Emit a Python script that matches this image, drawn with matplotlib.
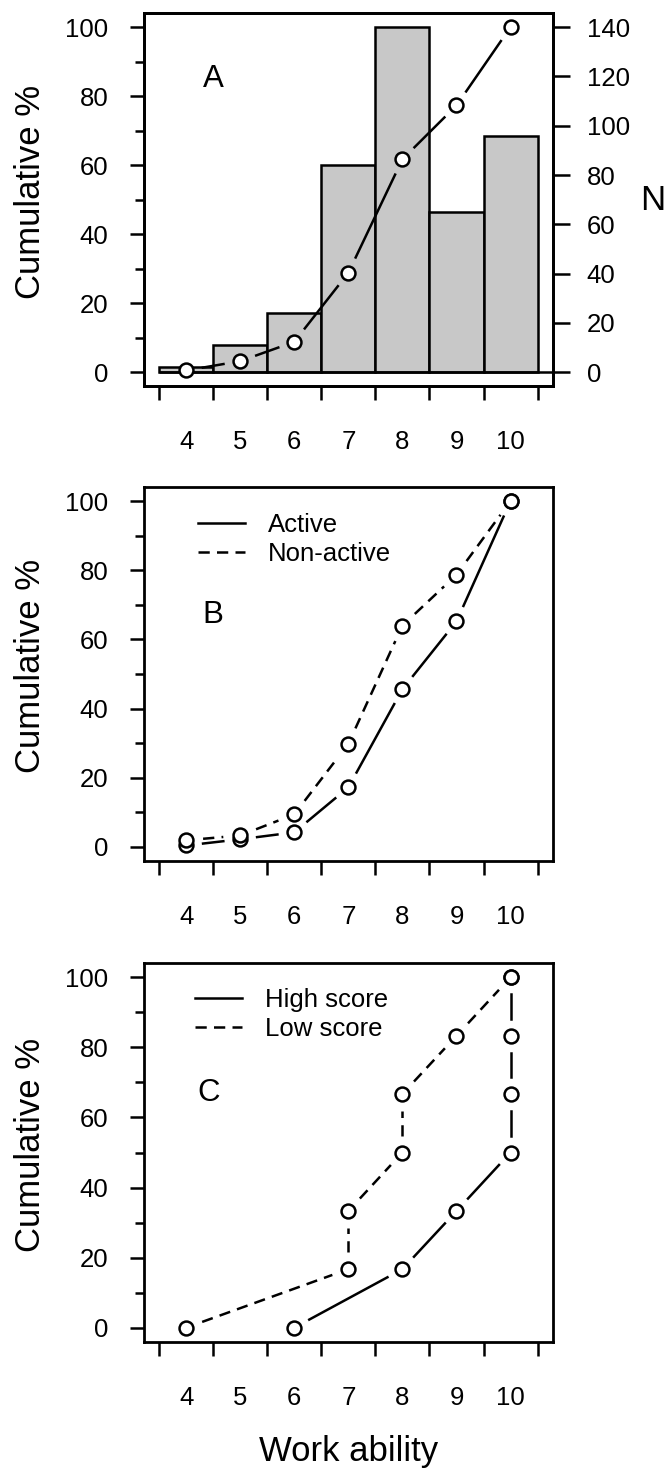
import numpy as np
import matplotlib
matplotlib.use('Agg')
import matplotlib.pyplot as plt
from matplotlib.lines import Line2D

plt.rcParams['font.family'] = ['Liberation Sans', 'DejaVu Sans']

# data
work = [4, 5, 6, 7, 8, 9, 10]
n_counts = [2, 11, 24, 84, 140, 65, 96]
cum_all = [0.5, 3.2, 8.8, 28.8, 61.7, 77.3, 100]

active = [0.4, 2.2, 4.2, 17.2, 45.6, 65.2, 100]
nonactive = [1.9, 3.3, 9.4, 29.8, 64.0, 78.7, 100]

high_x = [6, 8, 9, 10, 10, 10, 10]
high_y = [0, 16.7, 33.3, 50, 66.7, 83.3, 100]
low_x = [4, 7, 7, 8, 8, 9, 10]
low_y = [0, 16.7, 33.3, 50, 66.7, 83.3, 100]

W, H = 671, 1468
LW = 1.8
DASH = (4.5, 2.9)
GAP = 17  # px gap around points (R type="b")
TICK_FS = 18.5
LAB_FS = 25


def place(left, top, right, bottom):
    return [left / W, 1 - bottom / H, (right - left) / W, (bottom - top) / H]


edges = np.append(work, work[-1] + 1) - 0.5
xpad = 0.04 * (edges[-1] - edges[0])
XLIM = (edges[0] - xpad, edges[-1] + xpad)
YLIM = (-4, 104)


def style_axes(ax):
    ax.set_xlim(XLIM)
    ax.set_ylim(YLIM)
    for s in ax.spines.values():
        s.set_linewidth(2.0)
    ax.set_xticks(edges)
    ax.set_xticklabels([])
    ax.set_xticks(work, [str(w) for w in work], minor=True)
    ax.tick_params(axis='x', which='major', length=10, width=LW, direction='out')
    ax.tick_params(axis='x', which='minor', length=0, pad=32, labelsize=TICK_FS)
    ax.set_yticks([0, 20, 40, 60, 80, 100])
    ax.set_yticks([10, 30, 50, 70, 90], minor=True)
    ax.tick_params(axis='y', which='major', length=10, width=LW, direction='out',
                   pad=15.5, labelsize=TICK_FS)
    ax.tick_params(axis='y', which='minor', length=6.5, width=LW, direction='out')


def gapped(ax, xs, ys, **kw):
    pts = ax.transData.transform(np.column_stack([xs, ys]))
    inv = ax.transData.inverted()
    for p0, p1 in zip(pts[:-1], pts[1:]):
        d = p1 - p0
        L = np.hypot(*d)
        if L <= 2 * GAP:
            continue
        u = d / L
        seg = inv.transform(np.array([p0 + u * GAP, p1 - u * GAP]))
        ax.plot(seg[:, 0], seg[:, 1], color='black', lw=LW, **kw)
    ax.plot(xs, ys, 'o', ms=10, mfc='white', mec='black', mew=LW, ls='none', zorder=5)


def ylab(ax_pos_top, ax_pos_bottom):
    yc = (ax_pos_top + ax_pos_bottom) / 2 - 8
    fig.text(31 / W, 1 - yc / H, 'Cumulative %', rotation=90, ha='center',
             va='center', fontsize=LAB_FS)


fig = plt.figure(figsize=(W / 100, H / 100), dpi=100)

# ---- panel A ----
axN = fig.add_axes(place(144, 13.3, 552.7, 386))
axN.set_xlim(XLIM)
axN.set_ylim(-5.6, 145.6)
axN.bar(work, n_counts, width=1.0, color='#c8c8c8', edgecolor='black', linewidth=LW)
axN.hlines(0, edges[0], XLIM[1], color='black', lw=LW)
axP = axN.twinx()
axP.yaxis.tick_left()
axN.yaxis.tick_right()
style_axes(axP)
axN.set_xticks(edges)
axN.set_xticklabels([])
axN.set_xticks(work, [str(w) for w in work], minor=True)
axN.tick_params(axis='x', which='major', length=10, width=LW, direction='out')
axN.tick_params(axis='x', which='minor', length=0, pad=32, labelsize=TICK_FS)
axN.set_yticks(range(0, 141, 20))
axN.tick_params(axis='y', length=12.5, width=LW, direction='out', pad=12,
                labelsize=TICK_FS)
for s in axN.spines.values():
    s.set_linewidth(2.0)
gapped(axP, work, cum_all, ls='-')
axP.text(4.5, 85, 'A', ha='center', va='center', fontsize=22.5)
ylab(13.3, 386)
fig.text(653 / W, 1 - 200.7 / H, 'N', ha='center', va='center', fontsize=LAB_FS)

# ---- panel B ----
axB = fig.add_axes(place(144, 487.3, 552.7, 860.7))
style_axes(axB)
gapped(axB, work, active, ls='-')
gapped(axB, work, nonactive, ls=(0, DASH))
axB.text(4.5, 67, 'B', ha='center', va='center', fontsize=22.5)
hB = [Line2D([], [], color='black', lw=LW, ls='-'),
      Line2D([], [], color='black', lw=LW, ls=(0, DASH))]
axB.legend(hB, ['Active', 'Non-active'], loc='upper left', bbox_to_anchor=(0.131, 0.932),
           frameon=False, fontsize=TICK_FS, handlelength=1.85, handletextpad=0.9,
           labelspacing=0.2, borderpad=0, borderaxespad=0)
ylab(487.3, 860.7)

# ---- panel C ----
axC = fig.add_axes(place(144, 963.3, 552.7, 1341.7))
style_axes(axC)
gapped(axC, high_x, high_y, ls='-')
gapped(axC, low_x, low_y, ls=(0, DASH))
axC.text(4.42, 67, 'C', ha='center', va='center', fontsize=22.5)
hC = [Line2D([], [], color='black', lw=LW, ls='-'),
      Line2D([], [], color='black', lw=LW, ls=(0, DASH))]
axC.legend(hC, ['High score', 'Low score'], loc='upper left', bbox_to_anchor=(0.124, 0.935),
           frameon=False, fontsize=TICK_FS, handlelength=1.85, handletextpad=0.9,
           labelspacing=0.2, borderpad=0, borderaxespad=0)
ylab(963.3, 1341.7)

fig.text(348.5 / W, 1 - 1461 / H, 'Work ability', ha='center', va='baseline',
         fontsize=LAB_FS)

fig.savefig('out.png', dpi=100)
